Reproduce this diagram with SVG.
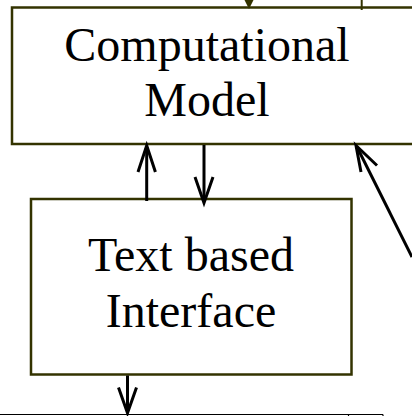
<svg xmlns="http://www.w3.org/2000/svg" width="412" height="416" viewBox="0 0 412 416">
<style>
.box{fill:#fff;stroke:#333300;stroke-width:2.5}
.lbl{font-family:"Liberation Serif","Times New Roman",serif;font-size:48px;fill:#000;text-anchor:middle}
.arr{fill:none;stroke:#000;stroke-width:3}
.head{fill:none;stroke:#000;stroke-width:3;stroke-linejoin:miter}
</style>
<rect width="412" height="416" fill="#fff"/>
<g id="computational-model">
<rect class="box" x="12" y="7.5" width="410" height="136.5"/>
<text class="lbl" x="207" y="61">Computational</text>
<text class="lbl" x="207" y="116">Model</text>
</g>
<g id="text-interface">
<rect class="box" x="31" y="199" width="320.5" height="175.5"/>
<text class="lbl" x="191" y="271">Text based</text>
<text class="lbl" x="191" y="327">Interface</text>
</g>
<g id="bottom-node">
<path d="M0 414.5H383M348.5 414.5V416M383 414.5V416" fill="none" stroke="#000" stroke-width="1.2"/>
</g>
<g id="connectors">
<path d="M244.5 0H253.5L249 9Z" fill="#333300"/>
<path d="M361.7 0V10" stroke="#333300" stroke-width="2" fill="none"/>
<path class="arr" d="M146.7 201V147"/>
<path class="head" d="M138 172L146.7 145.5L155.4 172"/>
<path class="arr" d="M204 145V201"/>
<path class="head" d="M195 177L204 203L213 177"/>
<path class="arr" d="M127.5 375.5V411"/>
<path class="head" d="M118.5 387.5L127.5 413L136.5 387.5"/>
<path class="arr" d="M412 257L357 147"/>
<path class="head" d="M361 172L356 145.5L377 165.5"/>
</g>
</svg>
